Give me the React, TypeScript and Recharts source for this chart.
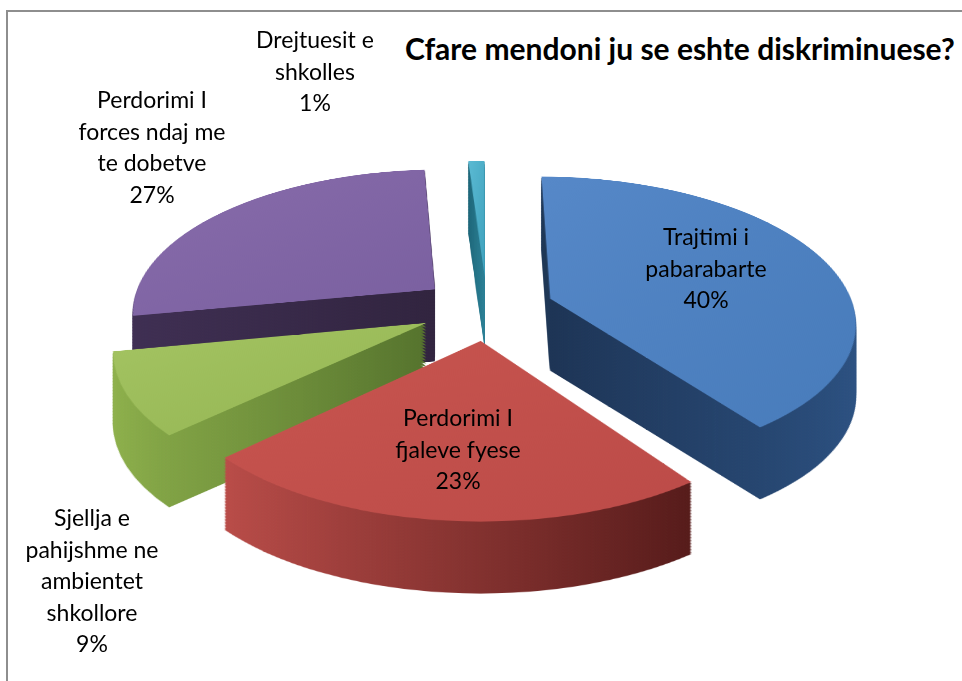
import { PieChart, Pie, Cell } from "recharts";

const categories = [
  "Trajtimi i pabarabarte",
  "Perdorimi I fjaleve fyese",
  "Sjellja e pahijshme ne ambientet shkollore",
  "Perdorimi I forces ndaj me te dobetve",
  "Drejtuesit e shkolles",
];
const shares = [40, 23, 9, 27, 1];
const labelLines = [
  ["Trajtimi i", "pabarabarte"],
  ["Perdorimi I", "fjaleve fyese"],
  ["Sjellja e", "pahijshme ne", "ambientet", "shkollore"],
  ["Perdorimi I", "forces ndaj me", "te dobetve"],
  ["Drejtuesit e", "shkolles"],
];
const title = "Cfare mendoni ju se eshte diskriminuese?";

const data = categories.map((name, i) => ({ name, value: shares[i] }));

// colours (office 2007 palette)
const faceTop = ["#5688C8", "#C8554F", "#A4C462", "#876BAA", "#5BBAD3"];
const faceBottom = ["#477BBA", "#BC4B48", "#94B553", "#7A60A0", "#3FA2BD"];
const wallLeft = ["#1D3455", "#B94C48", "#8FB24C", "#3F2F53", "#1B6578"];
const wallRight = ["#2C5283", "#561B1A", "#55732D", "#31243F", "#2A7F95"];

// label placement (screen px)
const labelPos = [
  { x: 706, y: 237 },
  { x: 458, y: 418 },
  { x: 92, y: 518 },
  { x: 152, y: 100 },
  { x: 315, y: 40 },
];

const W = 962;
const H = 900;
const CX = W / 2;
const CY = H / 2;
const R = 303;
const EXPLODE = 67;
const DEPTH = 72; // screen px
const STEP = 1.5;
const drawOrder = [4, 3, 0, 2, 1];
const tilt = "perspective(1800px) rotateX(62deg)";

const total = shares.reduce((a, b) => a + b, 0);
const mids = shares.map((v, i) => {
  const before = shares.slice(0, i).reduce((a, b) => a + b, 0);
  return ((before + v / 2) / total) * 2 * Math.PI;
});

const depths: number[] = [];
for (let d = DEPTH; d > 0; d -= STEP) depths.push(d);
depths.push(0);

const font = "Lato, 'Open Sans', sans-serif";

function Layer({ d }: { d: number }) {
  const top = d === 0;
  return (
    <div
      style={{
        position: "absolute",
        left: 1,
        top: 306 - H / 2,
        width: W,
        height: H,
        transformOrigin: "50% 50%",
        transform: `translateY(${d}px) ${tilt}`,
      }}
    >
      <PieChart width={W} height={H}>
        <defs>
          {shares.map((_, i) => (
            <linearGradient key={`f${i}`} id={`face${i}`} x1="0" y1="0" x2="1" y2="1">
              <stop offset="0%" stopColor={faceTop[i]} />
              <stop offset="100%" stopColor={faceBottom[i]} />
            </linearGradient>
          ))}
          {shares.map((_, i) => (
            <linearGradient key={`w${i}`} id={`wall${i}`} x1="0" y1="0" x2="1" y2="0">
              <stop offset="0%" stopColor={wallLeft[i]} />
              <stop offset="100%" stopColor={wallRight[i]} />
            </linearGradient>
          ))}
        </defs>
        {drawOrder.map((s) => (
          <Pie
            key={s}
            data={data}
            dataKey="value"
            cx={CX + EXPLODE * Math.sin(mids[s])}
            cy={CY - EXPLODE * Math.cos(mids[s])}
            outerRadius={R}
            innerRadius={0}
            startAngle={90}
            endAngle={-270}
            stroke="none"
            isAnimationActive={false}
          >
            {data.map((_, i) => (
              <Cell
                key={i}
                fill={i === s ? (top ? `url(#face${s})` : `url(#wall${s})`) : "none"}
                stroke="none"
              />
            ))}
          </Pie>
        ))}
      </PieChart>
    </div>
  );
}

export default function App() {
  return (
    <div
      style={{
        position: "absolute",
        left: 0,
        top: 0,
        width: 962,
        height: 681,
        overflow: "hidden",
        background: "#fff",
        fontFamily: font,
      }}
    >
      <div
        style={{
          position: "absolute",
          left: 6,
          top: 10,
          width: 1200,
          height: 1200,
          border: "2px solid #8E8E8E",
        }}
      />

      {/* stacked slices give the 3d walls, the last one is the top face */}
      {depths.map((d) => (
        <Layer key={d} d={d} />
      ))}

      <div
        style={{
          position: "absolute",
          left: 405,
          top: 30,
          fontSize: 30,
          fontWeight: 700,
          color: "#000",
          whiteSpace: "nowrap",
        }}
      >
        {title}
      </div>

      {labelLines.map((lines, i) => (
        <div
          key={i}
          style={{
            position: "absolute",
            left: labelPos[i].x - 150,
            top: labelPos[i].y - 16,
            width: 300,
            textAlign: "center",
            fontSize: 23,
            lineHeight: "31.5px",
            color: "#000",
          }}
        >
          {lines.map((l, j) => (
            <div key={j}>{l}</div>
          ))}
          <div>{shares[i]}%</div>
        </div>
      ))}
    </div>
  );
}
